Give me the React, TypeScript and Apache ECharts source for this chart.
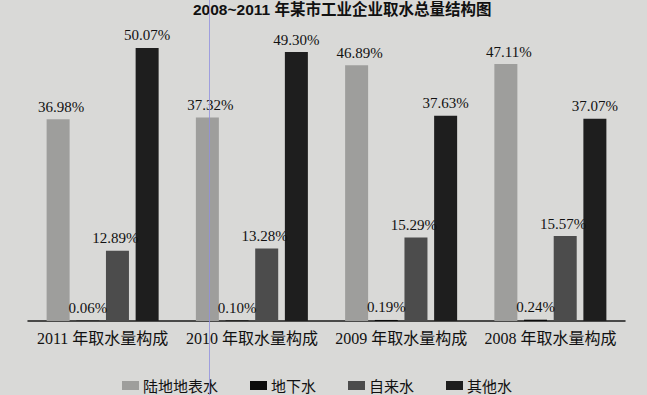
import React, { useEffect, useRef } from "react";
import * as echarts from "echarts";

const categories = ["2011 年取水量构成", "2010 年取水量构成", "2009 年取水量构成", "2008 年取水量构成"];
const seriesNames = ["陆地地表水", "地下水", "自来水", "其他水"];
const surfaceWater = [36.98, 37.32, 46.89, 47.11];
const groundWater = [0.06, 0.1, 0.19, 0.24];
const tapWater = [12.89, 13.28, 15.29, 15.57];
const otherWater = [50.07, 49.3, 37.63, 37.07];
const seriesColors = ["#9e9e9c", "#0c0c0c", "#4c4c4c", "#1e1e1e"];
const titleText = "2008~2011 年某市工业企业取水总量结构图";

const SERIF = "'Liberation Serif', 'Times New Roman', 'Noto Sans CJK SC', serif";
const SANS = "'Liberation Sans', Arial, 'Noto Sans CJK SC', sans-serif";
const CJK = "'Noto Sans CJK SC', sans-serif";

export default function App() {
  const ref = useRef<HTMLDivElement>(null);
  useEffect(() => {
    if (!ref.current) return;
    const chart = echarts.init(ref.current, null, { renderer: "svg" });
    const values = [surfaceWater, groundWater, tapWater, otherWater];
    const offsets = [[3, 0], [0, 0], [-2, 0], [0, 0]];
    chart.setOption({
      animation: false,
      backgroundColor: "#d9d9d7",
      title: {
        text: titleText,
        left: 193,
        top: 2,
        padding: 0,
        textStyle: { fontFamily: SANS, fontSize: 15.5, fontWeight: "bold", color: "#111" },
      },
      legend: {
        data: seriesNames,
        top: 378,
        left: 122,
        itemWidth: 17,
        itemHeight: 9,
        itemGap: 32,
        icon: "rect",
        padding: 0,
        textStyle: { fontFamily: CJK, fontSize: 15, color: "#111", padding: [0, 0, 0, -1] },
      },
      grid: { left: 28, right: 22, top: 21, bottom: 74, containLabel: false },
      xAxis: {
        type: "category",
        data: categories,
        axisLine: { show: true, lineStyle: { color: "#1a1a1a", width: 1.5 } },
        axisTick: { show: false },
        axisLabel: { margin: 9, fontFamily: SERIF, fontSize: 16, color: "#111", interval: 0 },
      },
      yAxis: { type: "value", min: 0, max: 55, show: false, splitLine: { show: false } },
      graphic: [
        {
          type: "line",
          shape: { x1: 209.5, y1: 0, x2: 209.5, y2: 395 },
          style: { stroke: "#8e8ee0", lineWidth: 1, opacity: 0.8 },
          z: 100,
        },
      ],
      series: seriesNames.map((name, i) => ({
        name,
        type: "bar",
        data: values[i],
        barWidth: 23,
        barGap: "29%",
        itemStyle: { color: seriesColors[i] },
        label: {
          show: true,
          position: "top",
          distance: 5,
          offset: offsets[i],
          formatter: (p: any) => p.value.toFixed(2) + "%",
          fontFamily: SERIF,
          fontSize: 15,
          color: "#111",
        },
      })),
    });
    return () => chart.dispose();
  }, []);
  return (
    <div
      ref={ref}
      style={{ position: "fixed", left: 0, top: 0, width: 647, height: 395 }}
    />
  );
}
